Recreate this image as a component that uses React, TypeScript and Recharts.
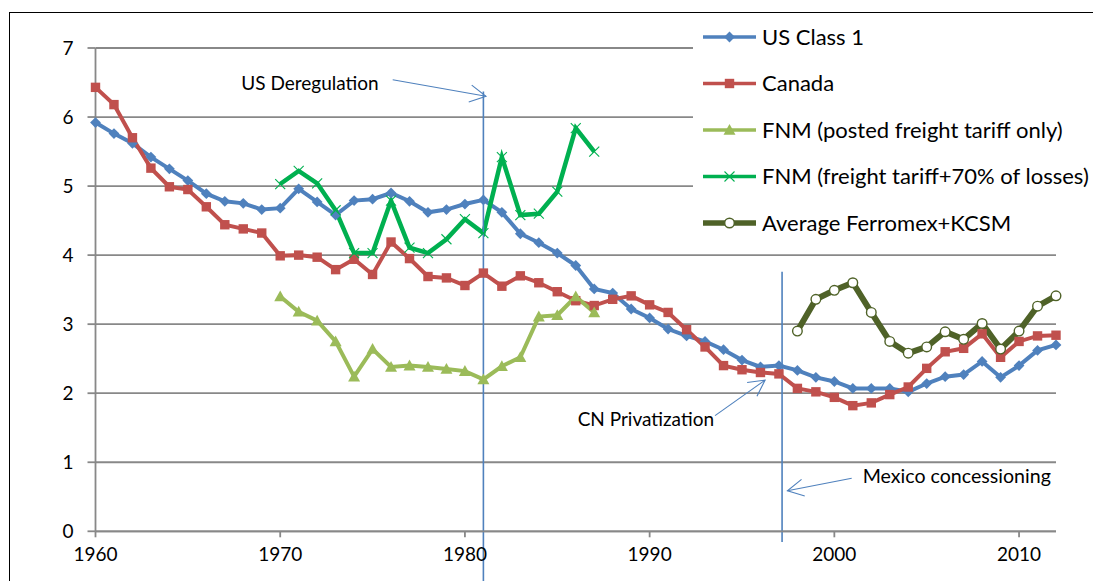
import React from 'react';
import { LineChart, Line, XAxis, YAxis, CartesianGrid, ReferenceLine } from 'recharts';

// ---------- data ----------
const years = [
  1960, 1961, 1962, 1963, 1964, 1965, 1966, 1967, 1968, 1969,
  1970, 1971, 1972, 1973, 1974, 1975, 1976, 1977, 1978, 1979,
  1980, 1981, 1982, 1983, 1984, 1985, 1986, 1987, 1988, 1989,
  1990, 1991, 1992, 1993, 1994, 1995, 1996, 1997, 1998, 1999,
  2000, 2001, 2002, 2003, 2004, 2005, 2006, 2007, 2008, 2009,
  2010, 2011, 2012,
];

// 1960-2012
const usClass1 = [
  5.92, 5.76, 5.62, 5.42, 5.25, 5.08, 4.89, 4.78, 4.75, 4.66,
  4.68, 4.96, 4.77, 4.58, 4.79, 4.81, 4.90, 4.78, 4.62, 4.66,
  4.74, 4.80, 4.62, 4.31, 4.18, 4.03, 3.85, 3.51, 3.45, 3.22,
  3.09, 2.93, 2.83, 2.75, 2.63, 2.48, 2.38, 2.40, 2.33, 2.23,
  2.17, 2.07, 2.07, 2.07, 2.02, 2.14, 2.24, 2.27, 2.46, 2.23,
  2.40, 2.62, 2.70,
];

// 1960-2012
const canada = [
  6.43, 6.18, 5.70, 5.26, 4.99, 4.95, 4.70, 4.44, 4.38, 4.32,
  3.99, 4.00, 3.97, 3.79, 3.94, 3.72, 4.19, 3.95, 3.69, 3.67,
  3.56, 3.74, 3.55, 3.70, 3.60, 3.47, 3.34, 3.27, 3.36, 3.41,
  3.28, 3.17, 2.92, 2.67, 2.40, 2.34, 2.30, 2.28, 2.07, 2.02,
  1.94, 1.82, 1.86, 1.98, 2.09, 2.36, 2.60, 2.65, 2.86, 2.52,
  2.75, 2.83, 2.84,
];

// 1970-1987
const fnmPostedStart = 1970;
const fnmPosted = [
  3.40, 3.18, 3.05, 2.75, 2.24, 2.64, 2.38, 2.40, 2.38, 2.35,
  2.32, 2.20, 2.39, 2.52, 3.11, 3.13, 3.40, 3.17,
];

// 1970-1987
const fnmFreightStart = 1970;
const fnmFreight = [
  5.03, 5.22, 5.04, 4.65, 4.03, 4.03, 4.79, 4.11, 4.03, 4.23,
  4.52, 4.32, 5.42, 4.58, 4.60, 4.92, 5.84, 5.50,
];

// 1998-2012
const ferromexStart = 1998;
const ferromexKcsm = [
  2.90, 3.36, 3.49, 3.60, 3.17, 2.75, 2.58, 2.67, 2.89, 2.78,
  3.01, 2.64, 2.90, 3.26, 3.41,
];

const xTicks = [1960, 1970, 1980, 1990, 2000, 2010];
const yTicks = [0, 1, 2, 3, 4, 5, 6, 7];

const seriesNames = [
  'US Class 1',
  'Canada',
  'FNM (posted freight tariff only)',
  'FNM (freight tariff+70% of losses)',
  'Average Ferromex+KCSM',
];

// event annotations (data coordinates)
const usDeregYear = 1981;
const mexicoYear = 1997.17;

const pick = (arr: number[], start: number, y: number) => {
  const i = y - start;
  return i >= 0 && i < arr.length ? arr[i] : null;
};

const data = years.map((y) => ({
  year: y,
  us: pick(usClass1, 1960, y),
  ca: pick(canada, 1960, y),
  fnmP: pick(fnmPosted, fnmPostedStart, y),
  fnmF: pick(fnmFreight, fnmFreightStart, y),
  fx: pick(ferromexKcsm, ferromexStart, y),
}));

// ---------- styles ----------
const FONT = 'Lato, "Open Sans", "Liberation Sans", sans-serif';
const C_US = '#4F81BD';
const C_CA = '#C0504D';
const C_FP = '#9BBB59';
const C_FF = '#00B050';
const C_FX = '#4F6228';
const C_GRID = '#888888';
const C_ANN = '#4F81BD';

type Kind = 'diamond' | 'square' | 'triangle' | 'x' | 'circle';

const marker = (kind: Kind, cx: number, cy: number, key?: string) => {
  switch (kind) {
    case 'diamond':
      return (
        <polygon key={key} points={`${cx},${cy - 5.4} ${cx + 5.4},${cy} ${cx},${cy + 5.4} ${cx - 5.4},${cy}`} fill={C_US} />
      );
    case 'square':
      return <rect key={key} x={cx - 4.7} y={cy - 4.7} width={9.4} height={9.4} fill={C_CA} />;
    case 'triangle':
      return (
        <polygon key={key} points={`${cx},${cy - 6} ${cx + 6},${cy + 4.8} ${cx - 6},${cy + 4.8}`} fill={C_FP} />
      );
    case 'x':
      return (
        <g key={key} stroke={C_FF} strokeWidth={1.1}>
          <line x1={cx - 5} y1={cy - 5} x2={cx + 5} y2={cy + 5} />
          <line x1={cx - 5} y1={cy + 5} x2={cx + 5} y2={cy - 5} />
        </g>
      );
    case 'circle':
    default:
      return <circle key={key} cx={cx} cy={cy} r={4.8} fill="#ffffff" stroke={C_FX} strokeWidth={1.4} />;
  }
};

const mkDot = (kind: Kind) => (props: any) => {
  const { cx, cy, index } = props;
  const k = `${kind}-${index}`;
  if (typeof cx !== 'number' || typeof cy !== 'number' || !isFinite(cy) || !isFinite(cx)) {
    return <g key={k} />;
  }
  return <g key={k}>{marker(kind, cx, cy)}</g>;
};

// arrow shape for a ReferenceLine segment: shaft from (x1,y1) to tip (x2,y2), open head, plus label
const mkArrow =
  (label: string, anchor: 'start' | 'end', dx: number, dy: number, fs: number) => (props: any) => {
    const { x1, y1, x2, y2 } = props;
    const len = Math.hypot(x2 - x1, y2 - y1) || 1;
    const ux = (x2 - x1) / len;
    const uy = (y2 - y1) / len;
    const hl = 16;
    const hw = 8.5;
    const bx = x2 - ux * hl;
    const by = y2 - uy * hl;
    const p1x = bx - uy * hw;
    const p1y = by + ux * hw;
    const p2x = bx + uy * hw;
    const p2y = by - ux * hw;
    return (
      <g>
        <line x1={x1} y1={y1} x2={x2} y2={y2} stroke={C_ANN} strokeWidth={1.1} />
        <polyline points={`${p1x},${p1y} ${x2},${y2} ${p2x},${p2y}`} fill="none" stroke={C_ANN} strokeWidth={1.1} />
        <text x={x1 + dx} y={y1 + dy} textAnchor={anchor} fontFamily={FONT} fontSize={fs} fill="#000">
          {label}
        </text>
      </g>
    );
  };

const legendKinds: Kind[] = ['diamond', 'square', 'triangle', 'x', 'circle'];
const legendColors = [C_US, C_CA, C_FP, C_FF, C_FX];
const legendWidths = [3.5, 3.5, 3.5, 3.5, 5.5];

export default function App() {
  return (
    <div style={{ position: 'absolute', left: 0, top: 0, width: 1093, height: 581, background: '#fff', overflow: 'hidden' }}>
      <div
        style={{
          position: 'absolute',
          left: 9,
          top: 12,
          width: 1200,
          height: 700,
          borderLeft: '1px solid #000',
          borderTop: '1px solid #000',
        }}
      />
      <div style={{ position: 'absolute', left: 0, top: 0 }}>
        <LineChart width={1093} height={581} data={data} margin={{ top: 48, right: 37, bottom: 10, left: 35.5 }}>
          <CartesianGrid vertical={false} stroke={C_GRID} strokeWidth={1.8} />
          <XAxis
            dataKey="year"
            type="number"
            domain={[1960, 2012]}
            ticks={xTicks}
            height={39.7}
            tickSize={6}
            tickMargin={10}
            stroke={C_GRID}
            strokeWidth={1.8}
            tick={{ fill: '#000', fontFamily: FONT, fontSize: 19 }}
            interval={0}
          />
          <YAxis
            type="number"
            domain={[0, 7]}
            ticks={yTicks}
            width={60}
            tickSize={8}
            tickMargin={14}
            stroke={C_GRID}
            strokeWidth={1.8}
            tick={{ fill: '#000', fontFamily: FONT, fontSize: 19 }}
            interval={0}
          />
          <Line dataKey="us" stroke={C_US} strokeWidth={4} dot={mkDot('diamond')} activeDot={false} isAnimationActive={false} />
          <Line dataKey="ca" stroke={C_CA} strokeWidth={4} dot={mkDot('square')} activeDot={false} isAnimationActive={false} />
          <Line dataKey="fnmP" stroke={C_FP} strokeWidth={4} dot={mkDot('triangle')} activeDot={false} isAnimationActive={false} />
          <Line dataKey="fnmF" stroke={C_FF} strokeWidth={4.5} dot={mkDot('x')} activeDot={false} isAnimationActive={false} />
          <Line dataKey="fx" stroke={C_FX} strokeWidth={6} dot={mkDot('circle')} activeDot={false} isAnimationActive={false} />

          <ReferenceLine
            segment={[{ x: usDeregYear, y: 6.37 }, { x: usDeregYear, y: -0.75 }]}
            stroke={C_ANN}
            strokeWidth={1.6}
            ifOverflow="visible"
          />
          <ReferenceLine
            segment={[{ x: mexicoYear, y: 3.76 }, { x: mexicoYear, y: -0.155 }]}
            stroke={C_ANN}
            strokeWidth={1.6}
            ifOverflow="visible"
          />
          <ReferenceLine
            segment={[{ x: 1976.09, y: 6.54 }, { x: 1981.14, y: 6.3 }]}
            ifOverflow="visible"
            shape={mkArrow('US Deregulation', 'end', -14, 10, 19)}
          />
          <ReferenceLine
            segment={[{ x: 1993.54, y: 1.675 }, { x: 1996.25, y: 2.19 }]}
            ifOverflow="visible"
            shape={mkArrow('CN Privatization', 'end', -1, 10, 19)}
          />
          <ReferenceLine
            segment={[{ x: 2000.94, y: 0.768 }, { x: 1997.46, y: 0.588 }]}
            ifOverflow="visible"
            shape={mkArrow('Mexico concessioning', 'start', 11, 5, 19.6)}
          />
        </LineChart>
      </div>
      <div style={{ position: 'absolute', left: 693, top: 14, width: 400, height: 231, background: '#fff' }}>
        <svg width={400} height={231}>
          {seriesNames.map((name, i) => {
            const y = 23 + i * 46.5;
            return (
              <g key={name}>
                <line x1={10} y1={y} x2={63} y2={y} stroke={legendColors[i]} strokeWidth={legendWidths[i]} />
                {marker(legendKinds[i], 36.5, y)}
                <text x={69} y={y} dy="0.35em" fontFamily={FONT} fontSize={22} fill="#000">
                  {name}
                </text>
              </g>
            );
          })}
        </svg>
      </div>
    </div>
  );
}
